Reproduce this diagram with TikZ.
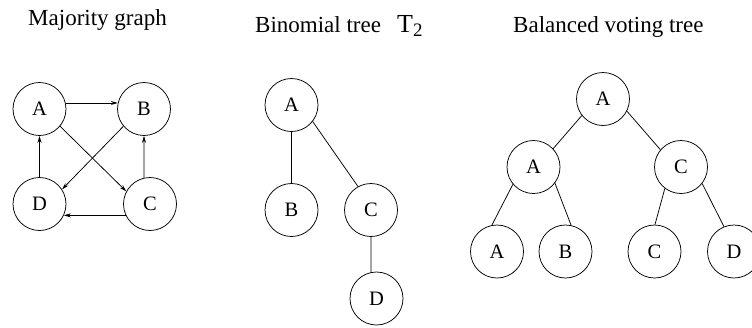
\documentclass[tikz,border=0pt]{standalone}
\usepackage{fontspec}
\setmainfont{Liberation Serif}
\usetikzlibrary{arrows.meta}
\begin{document}
\begin{tikzpicture}[x=1pt,y=-1pt,
  vtx/.style={circle,draw,line width=0.75pt,minimum size=53pt,inner sep=0pt,font=\fontsize{20.5}{24}\selectfont},
  edge/.style={line width=0.75pt},
  arc/.style={line width=0.75pt,-{Stealth[length=7pt,width=4pt]}},
  title/.style={font=\fontsize{23}{27}\selectfont,inner sep=0pt,anchor=base west}]
\useasboundingbox (0,0) rectangle (752,327);
\clip (0,0) rectangle (752,327);
% titles
\node[title,anchor=base] (t1) at (97.5,25) {Majority graph};
\node[title] (t2) at (255,32) {Binomial tree\hspace{0.7em}{\fontsize{26}{30}\selectfont T}\raisebox{-4pt}{\fontsize{19}{22}\selectfont 2}};
\node[title] (t3) at (513,32) {Balanced voting tree};
% majority graph
\node[vtx] (mA) at (39.5,109) {A};
\node[vtx] (mB) at (144,109) {B};
\node[vtx] (mD) at (39.5,204) {D};
\node[vtx] (mC) at (150,204) {C};
\draw[arc] (mA.13) -- (mB.167);
\draw[arc] (mD) -- (mA);
\draw[arc] (mC.103) -- (mB.270);
\draw[arc] (mC.205) -- (mD.335);
\draw[arc] (mA.320) -- (mC.152);
\draw[arc] (mB.220) -- (mD.33);
% binomial tree
\node[vtx] (bA) at (291.5,105) {A};
\node[vtx] (bB) at (291.5,210) {B};
\node[vtx] (bC) at (371,210) {C};
\node[vtx] (bD) at (376.5,298.5) {D};
\draw[edge] (bA) -- (bB);
\draw[edge] (bA.322) -- (bC.119);
\draw[edge] (bC.270) -- (bD.102);
% balanced voting tree
\node[vtx] (r) at (603,99) {A};
\node[vtx] (lA) at (533.5,167) {A};
\node[vtx] (lC) at (681,167) {C};
\node[vtx] (aA) at (497,251.5) {A};
\node[vtx] (aB) at (565.5,251.5) {B};
\node[vtx] (cC) at (654.5,251.5) {C};
\node[vtx] (cD) at (734,251.5) {D};
\draw[edge] (r.218) -- (lA.43);
\draw[edge] (r.333) -- (lC.140);
\draw[edge] (lA.220) -- (aA.101);
\draw[edge] (lA.323) -- (aB.78);
\draw[edge] (lC.233) -- (cC.89);
\draw[edge] (lC.322) -- (cD.112);
\end{tikzpicture}
\end{document}
